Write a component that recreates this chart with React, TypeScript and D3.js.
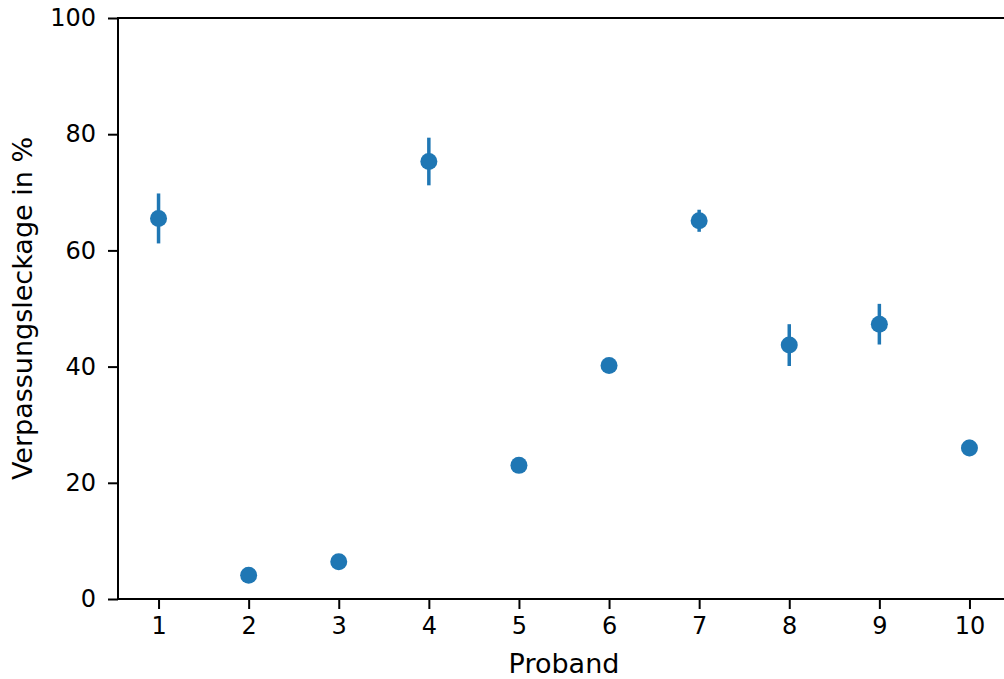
import React, { useEffect, useRef } from "react";
import * as d3 from "d3";

// Proband number, mean leakage in %, error (half length)
const probanden = [1, 2, 3, 4, 5, 6, 7, 8, 9, 10];
const leckage = [65.5, 4.1, 6.4, 75.3, 23.0, 40.2, 65.1, 43.7, 47.3, 26.0];
const fehler = [4.3, 0.4, 0.4, 4.1, 1.2, 0.5, 1.9, 3.6, 3.5, 1.4];
const yTicks = [0, 20, 40, 60, 80, 100];

const W = 1004;
const H = 679;
const M = { left: 118, top: 18, right: 1010, bottom: 599 };
const BLUE = "#1f77b4";
const FONT = "DejaVu Sans, sans-serif";
const TICK_FS = 24;
const LABEL_FS = 27;

export default function App() {
  const ref = useRef<SVGSVGElement | null>(null);

  useEffect(() => {
    const svg = d3.select(ref.current);
    svg.selectAll("*").remove();

    const x = d3.scaleLinear().domain([0.55, 10.45]).range([M.left, M.right]);
    const y = d3.scaleLinear().domain([0, 100]).range([M.bottom, M.top]);

    const data = probanden.map((p, i) => ({ p, v: leckage[i], e: fehler[i] }));

    // error bars
    svg.append("g")
      .selectAll("line")
      .data(data)
      .enter()
      .append("line")
      .attr("x1", (d) => x(d.p))
      .attr("x2", (d) => x(d.p))
      .attr("y1", (d) => y(d.v - d.e))
      .attr("y2", (d) => y(d.v + d.e))
      .attr("stroke", BLUE)
      .attr("stroke-width", 3.5);

    // markers
    svg.append("g")
      .selectAll("circle")
      .data(data)
      .enter()
      .append("circle")
      .attr("cx", (d) => x(d.p))
      .attr("cy", (d) => y(d.v))
      .attr("r", 8.5)
      .attr("fill", BLUE);

    // y axis
    const yAxis = svg.append("g")
      .attr("transform", `translate(${M.left},0)`)
      .call(d3.axisLeft(y).tickValues(yTicks).tickSize(10).tickPadding(12).tickFormat(d3.format("d")));
    // x axis
    const xAxis = svg.append("g")
      .attr("transform", `translate(0,${M.bottom})`)
      .call(d3.axisBottom(x).tickValues(probanden).tickSize(10).tickPadding(8).tickFormat(d3.format("d")));

    [yAxis, xAxis].forEach((g) => {
      g.select(".domain").remove();
      g.selectAll("line").attr("stroke", "#000").attr("stroke-width", 2);
      g.selectAll("text").attr("font-family", FONT).attr("font-size", TICK_FS).attr("fill", "#000");
    });

    // spines
    svg.append("rect")
      .attr("x", M.left)
      .attr("y", M.top)
      .attr("width", M.right - M.left)
      .attr("height", M.bottom - M.top)
      .attr("fill", "none")
      .attr("stroke", "#000")
      .attr("stroke-width", 2);

    // axis labels
    svg.append("text")
      .attr("x", (M.left + M.right) / 2)
      .attr("y", 673)
      .attr("text-anchor", "middle")
      .attr("font-family", FONT)
      .attr("font-size", LABEL_FS)
      .text("Proband");

    svg.append("text")
      .attr("transform", `translate(32,${(M.top + M.bottom) / 2}) rotate(-90)`)
      .attr("text-anchor", "middle")
      .attr("font-family", FONT)
      .attr("font-size", LABEL_FS)
      .text("Verpassungsleckage in %");
  }, []);

  return (
    <svg
      ref={ref}
      width={W}
      height={H}
      style={{ position: "absolute", left: 0, top: 0, background: "#fff" }}
    />
  );
}
